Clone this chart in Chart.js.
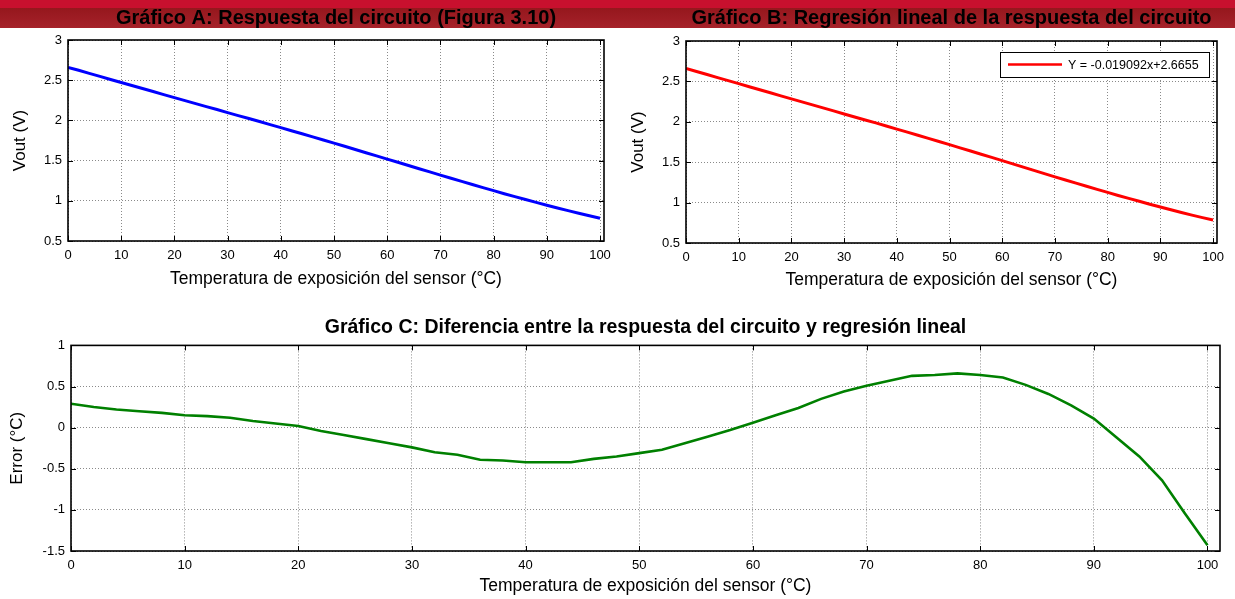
<!DOCTYPE html>
<html>
<head>
<meta charset="utf-8">
<script src="https://cdn.jsdelivr.net/npm/chart.js@4"></script>
<style>
  body { margin: 0; background: #fff; width: 1235px; height: 599px; overflow: hidden; position: relative; }
  #band1 { position: absolute; left: 0; top: 0; width: 1235px; height: 8px; background: #c8102e; }
  #band2 { position: absolute; left: 0; top: 8px; width: 1235px; height: 20px; background: linear-gradient(#95171d, #a6222a); }
  canvas { position: absolute; }
</style>
</head>
<body>
<div id="band1"></div>
<div id="band2"></div>
<canvas id="chartA" width="618" height="300" style="left:0;top:0"></canvas>
<canvas id="chartB" width="617" height="300" style="left:618px;top:0"></canvas>
<canvas id="chartC" width="1235" height="299" style="left:0;top:300px"></canvas>
<script>
// temperatura (°C)
const temps = [0, 2, 4, 6, 8, 10, 12, 14, 16, 18, 20, 22, 24, 26, 28, 30, 32, 34, 36, 38, 40,
  42, 44, 46, 48, 50, 52, 54, 56, 58, 60, 62, 64, 66, 68, 70, 72, 74, 76, 78, 80,
  82, 84, 86, 88, 90, 92, 94, 96, 98, 100]
// Vout (V) medido
const vout = [2.660, 2.623, 2.585, 2.547, 2.509, 2.472, 2.434, 2.396, 2.359, 2.321, 2.283,
  2.246, 2.209, 2.172, 2.135, 2.097, 2.060, 2.023, 1.986, 1.948, 1.910,
  1.872, 1.834, 1.795, 1.756, 1.717, 1.678, 1.638, 1.598, 1.559, 1.519,
  1.479, 1.439, 1.399, 1.359, 1.319, 1.280, 1.241, 1.202, 1.164, 1.126,
  1.088, 1.052, 1.016, 0.980, 0.945, 0.911, 0.878, 0.845, 0.814, 0.784]
// error (°C) entre respuesta y regresion
const errC = [0.29, 0.25, 0.22, 0.20, 0.18, 0.15, 0.14, 0.12, 0.08, 0.05, 0.02,
  -0.04, -0.09, -0.14, -0.19, -0.24, -0.30, -0.33, -0.39, -0.40, -0.42,
  -0.42, -0.42, -0.38, -0.35, -0.31, -0.27, -0.19, -0.11, -0.03, 0.06,
  0.15, 0.24, 0.35, 0.44, 0.51, 0.57, 0.63, 0.64, 0.66, 0.64,
  0.61, 0.52, 0.41, 0.27, 0.11, -0.12, -0.35, -0.64, -1.04, -1.43]
const vTicks = [0.5, 1, 1.5, 2, 2.5, 3]
const eTicks = [-1.5, -1, -0.5, 0, 0.5, 1]
const regLabel = 'Y = -0.019092x+2.6655'

const FONT = '"Liberation Sans", Arial, sans-serif'
Chart.defaults.font.family = FONT
Chart.defaults.color = '#000'

const pts = (ys) => temps.map((t, i) => ({ x: t, y: ys[i] }))

// marco tipo matlab con marcas hacia dentro
const boxPlugin = {
  id: 'matlabBox',
  afterDraw(chart) {
    const { ctx, chartArea: a, scales: { x, y } } = chart
    ctx.save()
    ctx.strokeStyle = '#000'
    ctx.lineWidth = 1
    ctx.beginPath()
    x.ticks.forEach(t => {
      const px = Math.round(x.getPixelForValue(t.value)) + 0.5
      ctx.moveTo(px, a.bottom); ctx.lineTo(px, a.bottom - 5)
      ctx.moveTo(px, a.top); ctx.lineTo(px, a.top + 5)
    })
    y.ticks.forEach(t => {
      const py = Math.round(y.getPixelForValue(t.value)) + 0.5
      ctx.moveTo(a.left, py); ctx.lineTo(a.left + 5, py)
      ctx.moveTo(a.right, py); ctx.lineTo(a.right - 5, py)
    })
    ctx.stroke()
    ctx.lineWidth = 1.6
    ctx.strokeRect(a.left, a.top, a.right - a.left, a.bottom - a.top)
    ctx.restore()
  }
}

// leyenda dentro del grafico B
const legendBox = {
  id: 'legendBox',
  afterDraw(chart, args, opts) {
    if (!opts.show) return
    const { ctx, chartArea: a } = chart
    const w = 209, h = 25
    const x0 = a.right - 8 - w, y0 = a.top + 11
    ctx.save()
    ctx.fillStyle = '#fff'
    ctx.fillRect(x0, y0, w, h)
    ctx.strokeStyle = '#000'
    ctx.lineWidth = 1
    ctx.strokeRect(x0 + 0.5, y0 + 0.5, w, h)
    ctx.strokeStyle = '#ff0000'
    ctx.lineWidth = 2.5
    ctx.beginPath()
    ctx.moveTo(x0 + 8, y0 + h / 2); ctx.lineTo(x0 + 62, y0 + h / 2)
    ctx.stroke()
    ctx.fillStyle = '#000'
    ctx.font = '12.5px ' + FONT
    ctx.textBaseline = 'middle'
    ctx.fillText(opts.text, x0 + 68, y0 + h / 2 + 1)
    ctx.restore()
  }
}

function makeChart(id, o) {
  return new Chart(document.getElementById(id), {
    type: 'line',
    data: {
      datasets: [{
        data: pts(o.values),
        borderColor: o.color,
        borderWidth: o.lw,
        pointRadius: 0,
        tension: 0,
        fill: false
      }]
    },
    options: {
      responsive: false,
      animation: false,
      layout: { padding: { left: 0, right: o.padR, top: 0, bottom: 0 } },
      plugins: {
        legend: { display: false },
        tooltip: { enabled: false },
        title: {
          display: true,
          text: o.title,
          fullSize: false,
          color: '#000',
          font: { size: o.titleSize, weight: 'bold' },
          padding: o.titlePad
        },
        legendBox: { show: !!o.legend, text: o.legend }
      },
      scales: {
        x: {
          type: 'linear',
          min: 0,
          max: o.xmax,
          afterFit: s => { s.height = o.xh },
          ticks: { stepSize: 10, includeBounds: false, maxRotation: 0, padding: 7, font: { size: 13 }, callback: v => String(v) },
          grid: { color: '#8a8a8a', drawTicks: false },
          border: { display: false, dash: [1, 2] },
          title: { display: true, text: 'Temperatura de exposición del sensor (°C)', font: { size: 17.5 }, padding: { top: 0, bottom: o.xtPad } }
        },
        y: {
          min: o.ticks[0],
          max: o.ticks[o.ticks.length - 1],
          afterFit: s => { s.width = o.yw },
          afterBuildTicks: s => { s.ticks = o.ticks.map(v => ({ value: v })) },
          ticks: { padding: 6, font: { size: 13 }, callback: v => String(v) },
          grid: { color: '#8a8a8a', drawTicks: false },
          border: { display: false, dash: [1, 2] },
          title: { display: true, text: o.ytitle, font: { size: 17 }, padding: { top: o.ytPad, bottom: 0 } }
        }
      }
    },
    plugins: [boxPlugin, legendBox]
  })
}

makeChart('chartA', {
  values: vout, color: '#0000ff', lw: 3,
  title: 'Gráfico A: Respuesta del circuito (Figura 3.10)', titleSize: 20, titlePad: { top: 6, bottom: 10 },
  ticks: vTicks, ytitle: 'Vout (V)', xmax: 100.75, xh: 59, yw: 68, padR: 14, xtPad: 10, ytPad: 10
})

makeChart('chartB', {
  values: vout, color: '#ff0000', lw: 3,
  title: 'Gráfico B: Regresión lineal de la respuesta del circuito', titleSize: 20, titlePad: { top: 6, bottom: 11 },
  ticks: vTicks, ytitle: 'Vout (V)', xmax: 100.75, xh: 57, yw: 68, padR: 18, xtPad: 9, ytPad: 10,
  legend: regLabel
})

makeChart('chartC', {
  values: errC, color: '#008000', lw: 2.6,
  title: 'Gráfico C: Diferencia entre la respuesta del circuito y regresión lineal', titleSize: 19.5, titlePad: { top: 16, bottom: 6 },
  ticks: eTicks, ytitle: 'Error (°C)', xmax: 101.1, xh: 48, yw: 71, padR: 15, xtPad: 2, ytPad: 7
})
</script>
</body>
</html>
